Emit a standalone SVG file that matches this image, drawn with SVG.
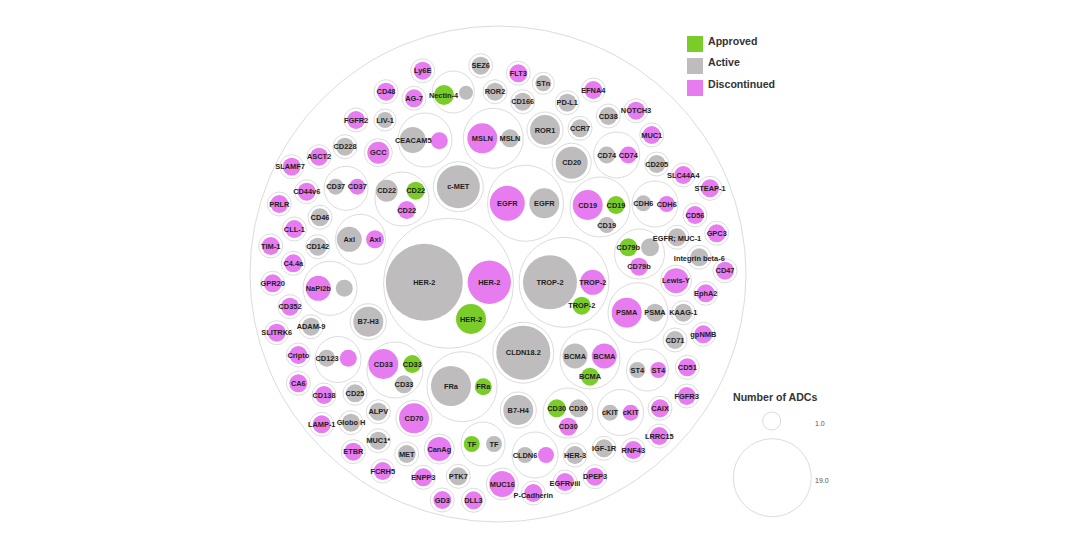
<svg xmlns="http://www.w3.org/2000/svg" width="1080" height="540" viewBox="0 0 1080 540">
<style>
.o{fill:#fff;stroke:#dcdcdc;stroke-width:1}
.p{fill:#e77cf0}
.g{fill:#bebcbc}
.a{fill:#7acc29}
text{font-family:"Liberation Sans",Arial,sans-serif;font-weight:bold;font-size:7.4px;fill:#1e1e1e;text-anchor:middle;dominant-baseline:central}
.lg{font-size:10.6px;fill:#333;text-anchor:start}
.sm{font-size:7px;font-weight:normal;fill:#555;text-anchor:start}
</style>
<rect width="1080" height="540" fill="#fff"/>
<circle cx="498" cy="274" r="248" class="o"/>

<g id="n-ly6e"><circle class="o" cx="422.7" cy="70.7" r="12"/><circle class="p" cx="422.7" cy="70.7" r="9"/><text x="422.7" y="70.7">Ly6E</text></g>
<g id="n-sez6"><circle class="o" cx="480.7" cy="65.7" r="12"/><circle class="g" cx="480.7" cy="65.7" r="9"/><text x="480.7" y="65.7">SEZ6</text></g>
<g id="n-flt3"><circle class="o" cx="518.3" cy="73.3" r="12"/><circle class="p" cx="518.3" cy="73.3" r="9"/><text x="518.3" y="73.3">FLT3</text></g>
<g id="n-stn"><circle class="o" cx="543.3" cy="83.3" r="11"/><circle class="g" cx="543.3" cy="83.3" r="8"/><text x="543.3" y="83.3">STn</text></g>
<g id="n-cd48"><circle class="o" cx="386" cy="91.7" r="12"/><circle class="p" cx="386" cy="91.7" r="9"/><text x="386" y="91.7">CD48</text></g>
<g id="n-ag7"><circle class="o" cx="414" cy="98.3" r="12"/><circle class="p" cx="414" cy="98.3" r="9"/><text x="414" y="98.3">AG-7</text></g>
<g id="n-nectin4"><circle class="o" cx="453.3" cy="92" r="21"/><circle class="a" cx="444" cy="95" r="10"/><circle class="g" cx="466" cy="92.7" r="7"/><text x="443.5" y="95">Nectin-4</text></g>
<g id="n-ror2"><circle class="o" cx="495" cy="91.7" r="12"/><circle class="g" cx="495" cy="91.7" r="9"/><text x="495" y="91.7">ROR2</text></g>
<g id="n-cd166"><circle class="o" cx="522.7" cy="101.7" r="12"/><circle class="g" cx="522.7" cy="101.7" r="9"/><text x="522.7" y="101.7">CD166</text></g>
<g id="n-pdl1"><circle class="o" cx="567.3" cy="102.7" r="12"/><circle class="g" cx="567.3" cy="102.7" r="9"/><text x="567.3" y="102.7">PD-L1</text></g>
<g id="n-efna4"><circle class="o" cx="593.3" cy="90" r="12"/><circle class="p" cx="593.3" cy="90" r="9"/><text x="593.3" y="90">EFNA4</text></g>
<g id="n-cd38"><circle class="o" cx="608.3" cy="116" r="12"/><circle class="g" cx="608.3" cy="116" r="9"/><text x="608.3" y="116">CD38</text></g>
<g id="n-notch3"><circle class="o" cx="636" cy="110.7" r="12"/><circle class="p" cx="636" cy="110.7" r="9"/><text x="636" y="110.7">NOTCH3</text></g>
<g id="n-ccr7"><circle class="o" cx="580" cy="128.3" r="12"/><circle class="g" cx="580" cy="128.3" r="9"/><text x="580" y="128.3">CCR7</text></g>
<g id="n-muc1"><circle class="o" cx="651.7" cy="135" r="12"/><circle class="p" cx="651.7" cy="135" r="9"/><text x="651.7" y="135">MUC1</text></g>
<g id="n-cd205"><circle class="o" cx="656.7" cy="164" r="12"/><circle class="g" cx="656.7" cy="164" r="9"/><text x="656.7" y="164">CD205</text></g>
<g id="n-slc44a4"><circle class="o" cx="683.3" cy="175" r="12"/><circle class="p" cx="683.3" cy="175" r="9"/><text x="683.3" y="175">SLC44A4</text></g>
<g id="n-steap1"><circle class="o" cx="710" cy="188.3" r="12"/><circle class="p" cx="710" cy="188.3" r="9"/><text x="710" y="188.3">STEAP-1</text></g>
<g id="n-fgfr2"><circle class="o" cx="356" cy="120" r="12"/><circle class="p" cx="356" cy="120" r="9"/><text x="356" y="120">FGFR2</text></g>
<g id="n-liv1"><circle class="o" cx="385" cy="120" r="11"/><circle class="g" cx="385" cy="120" r="8"/><text x="385" y="120">LIV-1</text></g>
<g id="n-ceacam5"><circle class="o" cx="425" cy="140" r="27"/><circle class="g" cx="412.7" cy="140" r="13"/><circle class="p" cx="439.3" cy="140.7" r="8.5"/><text x="413.3" y="140.5">CEACAM5</text></g>
<g id="n-msln"><circle class="o" cx="493.3" cy="138.3" r="30"/><circle class="p" cx="482.3" cy="138.3" r="15"/><circle class="g" cx="510" cy="138.3" r="9"/><text x="482.3" y="138.3">MSLN</text><text x="510" y="138.3">MSLN</text></g>
<g id="n-ror1"><circle class="o" cx="545" cy="130" r="18"/><circle class="g" cx="545" cy="130" r="15"/><text x="545" y="130">ROR1</text></g>
<g id="n-cd20"><circle class="o" cx="571.7" cy="162.7" r="19.5"/><circle class="g" cx="571.7" cy="162.7" r="16"/><text x="571.7" y="162.7">CD20</text></g>
<g id="n-cd74"><circle class="o" cx="616.7" cy="155" r="23"/><circle class="g" cx="606.7" cy="155" r="8.5"/><circle class="p" cx="628.3" cy="155" r="8.5"/><text x="606.7" y="155">CD74</text><text x="628.3" y="155">CD74</text></g>
<g id="n-cd228"><circle class="o" cx="345" cy="146.7" r="12"/><circle class="g" cx="345" cy="146.7" r="9"/><text x="345" y="146.7">CD228</text></g>
<g id="n-gcc"><circle class="o" cx="378.3" cy="152.7" r="14"/><circle class="p" cx="378.3" cy="152.7" r="11"/><text x="378.3" y="152.7">GCC</text></g>
<g id="n-asct2"><circle class="o" cx="319" cy="156.7" r="12"/><circle class="p" cx="319" cy="156.7" r="9"/><text x="319" y="156.7">ASCT2</text></g>
<g id="n-slamf7"><circle class="o" cx="291.7" cy="166.7" r="12"/><circle class="p" cx="291.7" cy="166.7" r="9"/><text x="290" y="166.7">SLAMF7</text></g>
<g id="n-cd37"><circle class="o" cx="346" cy="188.3" r="22"/><circle class="g" cx="335.7" cy="186.7" r="8"/><circle class="p" cx="357.3" cy="186.7" r="8"/><text x="335.7" y="186.7">CD37</text><text x="357.3" y="186.7">CD37</text></g>
<g id="n-cd44v6"><circle class="o" cx="306.7" cy="191.7" r="12"/><circle class="p" cx="306.7" cy="191.7" r="9"/><text x="306.7" y="191.7">CD44v6</text></g>
<g id="n-cd22"><circle class="o" cx="402" cy="199" r="27"/><circle class="g" cx="386.7" cy="190.7" r="11"/><circle class="a" cx="415.7" cy="190.7" r="9"/><circle class="p" cx="406.7" cy="210" r="9"/><text x="386.7" y="190.7">CD22</text><text x="415.7" y="190.7">CD22</text><text x="406.7" y="210">CD22</text></g>
<g id="n-cmet"><circle class="o" cx="458.3" cy="186.7" r="25"/><circle class="g" cx="458.3" cy="186.7" r="21.5"/><text x="458.3" y="186.7">c-MET</text></g>
<g id="n-egfr"><circle class="o" cx="525.5" cy="203.3" r="38"/><circle class="p" cx="507.3" cy="203.3" r="17.5"/><circle class="g" cx="544.3" cy="203.3" r="15"/><text x="507.3" y="203.3">EGFR</text><text x="544.3" y="203.3">EGFR</text></g>
<g id="n-cd19"><circle class="o" cx="600" cy="207" r="30"/><circle class="p" cx="587.7" cy="205" r="15"/><circle class="a" cx="616" cy="205" r="9"/><circle class="g" cx="606.7" cy="225" r="8"/><text x="587.7" y="205">CD19</text><text x="616" y="205">CD19</text><text x="606.7" y="225">CD19</text></g>
<g id="n-cdh6"><circle class="o" cx="655" cy="204" r="23"/><circle class="g" cx="643.3" cy="203.3" r="8"/><circle class="p" cx="666.7" cy="204" r="8"/><text x="643.3" y="203.3">CDH6</text><text x="666.7" y="204">CDH6</text></g>
<g id="n-cd56"><circle class="o" cx="695" cy="215" r="12"/><circle class="p" cx="695" cy="215" r="9"/><text x="695" y="215">CD56</text></g>
<g id="n-gpc3"><circle class="o" cx="716.7" cy="233.3" r="12"/><circle class="p" cx="716.7" cy="233.3" r="9"/><text x="716.7" y="233.3">GPC3</text></g>
<g id="n-cd79b"><circle class="o" cx="639.5" cy="254" r="25"/><circle class="a" cx="628.3" cy="247.3" r="9"/><circle class="g" cx="650" cy="247.3" r="9"/><circle class="p" cx="639" cy="266.7" r="9"/><text x="628.3" y="247.3">CD79b</text><text x="639" y="266.7">CD79b</text></g>
<g id="n-cd47"><circle class="o" cx="725" cy="270.7" r="12"/><circle class="p" cx="725" cy="270.7" r="9"/><text x="725" y="270.7">CD47</text></g>
<g id="n-lewisy"><circle class="o" cx="676" cy="280.7" r="15.5"/><circle class="p" cx="676" cy="280.7" r="12.5"/><text x="676" y="280.7">Lewis-Y</text></g>
<g id="n-epha2"><circle class="o" cx="705.7" cy="293.3" r="12"/><circle class="p" cx="705.7" cy="293.3" r="9"/><text x="705.7" y="293.3">EphA2</text></g>
<g id="n-psma"><circle class="o" cx="638" cy="312.7" r="30"/><circle class="p" cx="626.7" cy="312.7" r="15"/><circle class="g" cx="655" cy="312.7" r="9"/><text x="626.7" y="312.7">PSMA</text><text x="655" y="312.7">PSMA</text></g>
<g id="n-kaag1"><circle class="o" cx="683.3" cy="312.7" r="12"/><circle class="g" cx="683.3" cy="312.7" r="9"/><text x="683.3" y="312.7">KAAG-1</text></g>
<g id="n-gpnmb"><circle class="o" cx="703.3" cy="334.3" r="12"/><circle class="p" cx="703.3" cy="334.3" r="9"/><text x="703.3" y="334.3">gpNMB</text></g>
<g id="n-cd71"><circle class="o" cx="675" cy="340" r="12"/><circle class="g" cx="675" cy="340" r="9"/><text x="675" y="340">CD71</text></g>
<g id="n-her2"><circle class="o" cx="448.5" cy="283.3" r="65"/><circle class="g" cx="424.3" cy="282.3" r="38.5"/><circle class="p" cx="489.3" cy="282.3" r="21.7"/><circle class="a" cx="471" cy="319" r="15"/><text x="424.3" y="282.3">HER-2</text><text x="489.3" y="282.3">HER-2</text><text x="471" y="319">HER-2</text></g>
<g id="n-trop2"><circle class="o" cx="564" cy="282.3" r="45"/><circle class="g" cx="550" cy="282.3" r="27"/><circle class="p" cx="592.7" cy="282.3" r="12.5"/><circle class="a" cx="581.7" cy="305.7" r="9"/><text x="550" y="282.3">TROP-2</text><text x="592.7" y="282.3">TROP-2</text><text x="581.7" y="305.7">TROP-2</text></g>
<g id="n-prlr"><circle class="o" cx="279.3" cy="204" r="12"/><circle class="p" cx="279.3" cy="204" r="9"/><text x="279.3" y="204">PRLR</text></g>
<g id="n-cd46"><circle class="o" cx="320" cy="217.3" r="12"/><circle class="g" cx="320" cy="217.3" r="9"/><text x="320" y="217.3">CD46</text></g>
<g id="n-cll1"><circle class="o" cx="294.3" cy="229" r="12"/><circle class="p" cx="294.3" cy="229" r="9"/><text x="294.3" y="229">CLL-1</text></g>
<g id="n-axl"><circle class="o" cx="360.5" cy="239.3" r="25"/><circle class="g" cx="349.3" cy="239.3" r="12.5"/><circle class="p" cx="375" cy="239.3" r="9"/><text x="349.3" y="239.3">Axl</text><text x="375" y="239.3">Axl</text></g>
<g id="n-tim1"><circle class="o" cx="270.7" cy="246" r="12"/><circle class="p" cx="270.7" cy="246" r="9"/><text x="270.7" y="246">TIM-1</text></g>
<g id="n-cd142"><circle class="o" cx="317.7" cy="246.7" r="12"/><circle class="g" cx="317.7" cy="246.7" r="9"/><text x="317.7" y="246.7">CD142</text></g>
<g id="n-c44a"><circle class="o" cx="293.3" cy="263.3" r="12"/><circle class="p" cx="293.3" cy="263.3" r="9"/><text x="293.3" y="263.3">C4.4a</text></g>
<g id="n-napi2b"><circle class="o" cx="330" cy="288.3" r="27"/><circle class="p" cx="318.3" cy="288.3" r="12.5"/><circle class="g" cx="344.3" cy="288.3" r="8.5"/><text x="318.3" y="288.3">NaPi2b</text></g>
<g id="n-gpr20"><circle class="o" cx="272.7" cy="283.3" r="12"/><circle class="p" cx="272.7" cy="283.3" r="9"/><text x="272.7" y="283.3">GPR20</text></g>
<g id="n-cd352"><circle class="o" cx="290" cy="306.7" r="12"/><circle class="p" cx="290" cy="306.7" r="9"/><text x="290" y="306.7">CD352</text></g>
<g id="n-b7h3"><circle class="o" cx="368.3" cy="321.7" r="18"/><circle class="g" cx="368.3" cy="321.7" r="15"/><text x="368.3" y="321.7">B7-H3</text></g>
<g id="n-adam9"><circle class="o" cx="311" cy="326.7" r="12"/><circle class="g" cx="311" cy="326.7" r="9"/><text x="311" y="326.7">ADAM-9</text></g>
<g id="n-slitrk6"><circle class="o" cx="276.7" cy="332.7" r="12"/><circle class="p" cx="276.7" cy="332.7" r="9"/><text x="276.7" y="332.7">SLITRK6</text></g>
<g id="n-cripto"><circle class="o" cx="298.3" cy="355" r="12"/><circle class="p" cx="298.3" cy="355" r="9"/><text x="298.3" y="355">Cripto</text></g>
<g id="n-cd123"><circle class="o" cx="338" cy="359.5" r="23"/><circle class="g" cx="326.7" cy="358.3" r="8.5"/><circle class="p" cx="348.3" cy="358.3" r="8.5"/><text x="327" y="358.3">CD123</text></g>
<g id="n-cd33"><circle class="o" cx="395" cy="370" r="28"/><circle class="p" cx="383.3" cy="364" r="15"/><circle class="a" cx="412.3" cy="364" r="9"/><circle class="g" cx="404" cy="384.3" r="9"/><text x="383.3" y="364">CD33</text><text x="412.3" y="364">CD33</text><text x="404" y="384.3">CD33</text></g>
<g id="n-ca6"><circle class="o" cx="298.3" cy="383.3" r="12"/><circle class="p" cx="298.3" cy="383.3" r="9"/><text x="298.3" y="383.3">CA6</text></g>
<g id="n-cd138"><circle class="o" cx="324" cy="395" r="12"/><circle class="p" cx="324" cy="395" r="9"/><text x="324" y="395">CD138</text></g>
<g id="n-cd25"><circle class="o" cx="355" cy="393.3" r="12"/><circle class="g" cx="355" cy="393.3" r="9"/><text x="355" y="393.3">CD25</text></g>
<g id="n-alpv"><circle class="o" cx="378.3" cy="411.7" r="12"/><circle class="g" cx="378.3" cy="411.7" r="9"/><text x="378.3" y="411.7">ALPV</text></g>
<g id="n-cd70"><circle class="o" cx="414" cy="418.3" r="18"/><circle class="p" cx="414" cy="418.3" r="15"/><text x="414" y="418.3">CD70</text></g>
<g id="n-lamp1"><circle class="o" cx="321.7" cy="424.3" r="12"/><circle class="p" cx="321.7" cy="424.3" r="9"/><text x="321.7" y="424.3">LAMP-1</text></g>
<g id="n-globoh"><circle class="o" cx="351" cy="422.7" r="12"/><circle class="g" cx="351" cy="422.7" r="9"/><text x="351" y="422.7">Globo H</text></g>
<g id="n-muc1s"><circle class="o" cx="378.3" cy="440.7" r="12"/><circle class="g" cx="378.3" cy="440.7" r="9"/><text x="378.3" y="440.7">MUC1*</text></g>
<g id="n-met"><circle class="o" cx="406.7" cy="454" r="12"/><circle class="g" cx="406.7" cy="454" r="9"/><text x="406.7" y="454">MET</text></g>
<g id="n-canag"><circle class="o" cx="439.3" cy="449" r="15"/><circle class="p" cx="439.3" cy="449" r="12"/><text x="439.3" y="449">CanAg</text></g>
<g id="n-etbr"><circle class="o" cx="353.3" cy="451.7" r="12"/><circle class="p" cx="353.3" cy="451.7" r="9"/><text x="353.3" y="451.7">ETBR</text></g>
<g id="n-fcrh5"><circle class="o" cx="382.7" cy="471" r="12"/><circle class="p" cx="382.7" cy="471" r="9"/><text x="382.7" y="471">FCRH5</text></g>
<g id="n-enpp3"><circle class="o" cx="423.3" cy="477.3" r="12"/><circle class="p" cx="423.3" cy="477.3" r="9"/><text x="423.3" y="477.3">ENPP3</text></g>
<g id="n-gd3"><circle class="o" cx="442.3" cy="500" r="12"/><circle class="p" cx="442.3" cy="500" r="9"/><text x="442.3" y="500">GD3</text></g>
<g id="n-ptk7"><circle class="o" cx="458.3" cy="476.3" r="12"/><circle class="g" cx="458.3" cy="476.3" r="9"/><text x="458.3" y="476.3">PTK7</text></g>
<g id="n-dll3"><circle class="o" cx="473.5" cy="500.3" r="12"/><circle class="p" cx="473.5" cy="500.3" r="9"/><text x="473.5" y="500.3">DLL3</text></g>
<g id="n-muc16"><circle class="o" cx="502.3" cy="484" r="16"/><circle class="p" cx="502.3" cy="484" r="13"/><text x="502.3" y="484">MUC16</text></g>
<g id="n-pcad"><circle class="o" cx="533.3" cy="493" r="12"/><circle class="p" cx="533.3" cy="493" r="9"/><text x="533.3" y="495">P-Cadherin</text></g>
<g id="n-egfrviii"><circle class="o" cx="565" cy="482" r="12"/><circle class="p" cx="565" cy="482" r="9"/><text x="565" y="483">EGFRviii</text></g>
<g id="n-dpep3"><circle class="o" cx="595" cy="476.7" r="12"/><circle class="p" cx="595" cy="476.7" r="9"/><text x="595" y="476.7">DPEP3</text></g>
<g id="n-her3"><circle class="o" cx="575" cy="455" r="12"/><circle class="g" cx="575" cy="455" r="9"/><text x="575" y="455">HER-3</text></g>
<g id="n-igf1r"><circle class="o" cx="604" cy="448.3" r="12"/><circle class="g" cx="604" cy="448.3" r="9"/><text x="604" y="448.3">IGF-1R</text></g>
<g id="n-rnf43"><circle class="o" cx="633.3" cy="450" r="12"/><circle class="p" cx="633.3" cy="450" r="9"/><text x="633.3" y="450">RNF43</text></g>
<g id="n-lrrc15"><circle class="o" cx="659.3" cy="436" r="12"/><circle class="p" cx="659.3" cy="436" r="9"/><text x="659.3" y="436.5">LRRC15</text></g>
<g id="n-caix"><circle class="o" cx="660" cy="408.3" r="12"/><circle class="p" cx="660" cy="408.3" r="9"/><text x="660" y="408.3">CAIX</text></g>
<g id="n-fgfr3"><circle class="o" cx="686.7" cy="396" r="12"/><circle class="p" cx="686.7" cy="396" r="9"/><text x="686.7" y="396">FGFR3</text></g>
<g id="n-cd51"><circle class="o" cx="687.3" cy="367.3" r="12"/><circle class="p" cx="687.3" cy="367.3" r="9"/><text x="687.3" y="367.3">CD51</text></g>
<g id="n-cldn182"><circle class="o" cx="523.3" cy="352.7" r="30.5"/><circle class="g" cx="523.3" cy="352.7" r="27"/><text x="523.3" y="352.7">CLDN18.2</text></g>
<g id="n-b7h4"><circle class="o" cx="518.3" cy="410" r="18"/><circle class="g" cx="518.3" cy="410" r="15"/><text x="518.3" y="410">B7-H4</text></g>
<g id="n-fra"><circle class="o" cx="462" cy="386.7" r="35"/><circle class="g" cx="451" cy="386" r="20"/><circle class="a" cx="483.3" cy="386.7" r="8.5"/><text x="451" y="386">FRa</text><text x="483.3" y="386.7">FRa</text></g>
<g id="n-bcma"><circle class="o" cx="590" cy="359" r="30"/><circle class="g" cx="575" cy="356" r="12.5"/><circle class="p" cx="604.3" cy="356" r="12.5"/><circle class="a" cx="590" cy="376.7" r="9"/><text x="575" y="356">BCMA</text><text x="604.3" y="356">BCMA</text><text x="590" y="376.7">BCMA</text></g>
<g id="n-st4"><circle class="o" cx="647.5" cy="370" r="21"/><circle class="g" cx="637.3" cy="370" r="8"/><circle class="p" cx="658.3" cy="370" r="8"/><text x="637.3" y="370">ST4</text><text x="658.3" y="370">ST4</text></g>
<g id="n-cd30"><circle class="o" cx="568" cy="413" r="25"/><circle class="a" cx="556.7" cy="408.3" r="9"/><circle class="g" cx="578.3" cy="408.3" r="9"/><circle class="p" cx="568.3" cy="426.7" r="9"/><text x="556.7" y="408.3">CD30</text><text x="578.3" y="408.3">CD30</text><text x="568.3" y="426.7">CD30</text></g>
<g id="n-ckit"><circle class="o" cx="620.5" cy="412.5" r="23"/><circle class="g" cx="610" cy="412.7" r="8"/><circle class="p" cx="630.7" cy="412.7" r="8"/><text x="610" y="412.7">cKIT</text><text x="630.7" y="412.7">cKIT</text></g>
<g id="n-tf"><circle class="o" cx="483" cy="444" r="22"/><circle class="a" cx="471.7" cy="444" r="8"/><circle class="g" cx="494" cy="444" r="8"/><text x="471.7" y="444">TF</text><text x="494" y="444">TF</text></g>
<g id="n-cldn6"><circle class="o" cx="535" cy="455" r="23"/><circle class="g" cx="525" cy="455" r="8"/><circle class="p" cx="546" cy="455" r="8"/><text x="525" y="455">CLDN6</text></g>
<g id="n-egfrmuc1"><circle class="o" cx="677" cy="237.3" r="12"/><circle class="g" cx="677" cy="237.3" r="9"/><text x="677" y="238">EGFR; MUC-1</text></g>
<g id="n-itgb6"><circle class="o" cx="699.3" cy="257.3" r="12"/><circle class="g" cx="699.3" cy="257.3" r="9"/><text x="699.3" y="258">Integrin beta-6</text></g>

<g id="legend">
<rect x="687" y="36" width="16" height="16" class="a"/>
<rect x="687" y="58" width="16" height="16" class="g"/>
<rect x="687" y="80" width="16" height="16" class="p"/>
<text class="lg" x="708" y="41">Approved</text>
<text class="lg" x="708" y="62">Active</text>
<text class="lg" x="708" y="84">Discontinued</text>
</g>
<g id="size-legend">
<text class="lg" x="733" y="397">Number of ADCs</text>
<circle class="o" cx="771.7" cy="421" r="9" fill="none"/>
<circle class="o" cx="772.3" cy="477.7" r="39" fill="none"/>
<text class="sm" x="815" y="423">1.0</text>
<text class="sm" x="815" y="480">19.0</text>
</g>
</svg>
